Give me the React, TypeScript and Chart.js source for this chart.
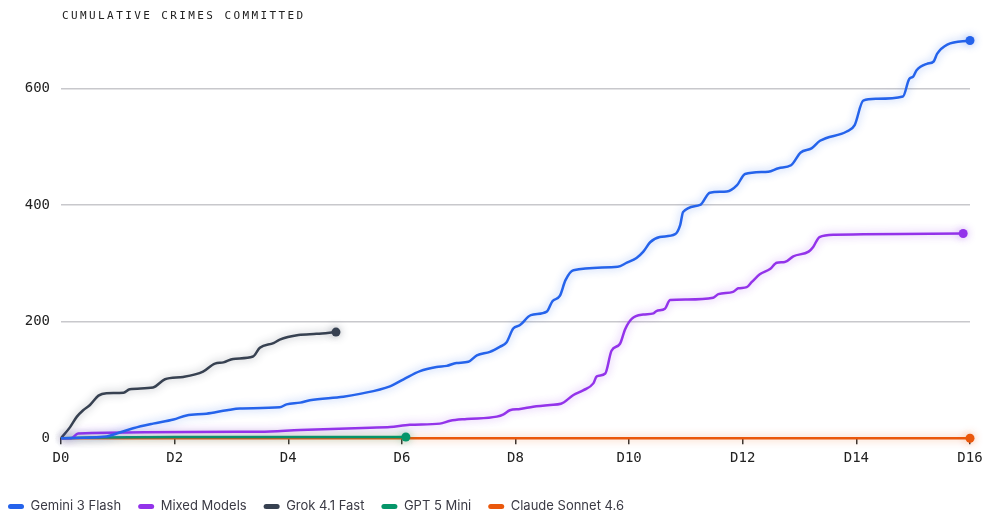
import { useEffect, useRef } from 'react';
import { Chart, registerables } from 'chart.js';

Chart.register(...registerables);

const xTickDays = [0, 2, 4, 6, 8, 10, 12, 14, 16];
const yTickValues = [0, 200, 400, 600];

const geminiDays = [0, 0.8, 0.98, 1.27, 1.62, 1.98, 2.21, 2.56, 2.92, 3.15, 3.85, 3.97, 4.21, 4.38, 4.97, 5.26, 5.79, 6.03, 6.32, 6.61, 6.79, 6.96, 7.17, 7.32, 7.55, 7.73, 7.84, 7.96, 8.08, 8.27, 8.55, 8.65, 8.78, 8.88, 9.02, 9.8, 9.96, 10.13, 10.25, 10.37, 10.54, 10.81, 10.9, 10.95, 11.25, 11.42, 11.72, 11.9, 12.04, 12.45, 12.63, 12.85, 13.02, 13.21, 13.36, 13.83, 13.97, 14.12, 14.35, 14.82, 14.93, 15.0, 15.06, 15.24, 15.36, 15.42, 15.6, 16.0];
const geminiCrimes = [0, 3, 8, 17, 25, 32, 39, 42, 48, 51, 53, 58, 61, 65, 71, 76, 89, 101, 115, 122, 124, 129, 131, 142, 148, 157, 164, 188, 194, 211, 217, 235, 244, 271, 288, 294, 301, 309, 320, 336, 345, 350, 366, 388, 400, 421, 423, 434, 453, 457, 463, 468, 490, 497, 510, 526, 537, 579, 582, 586, 616, 620, 631, 642, 646, 659, 675, 682];

const mixedDays = [0, 0.18, 0.3, 3.5, 4.21, 5.44, 5.79, 6.14, 6.67, 6.85, 7.14, 7.67, 7.79, 7.9, 8.08, 8.31, 8.61, 8.8, 9.02, 9.19, 9.37, 9.43, 9.58, 9.69, 9.84, 9.93, 10.05, 10.25, 10.43, 10.48, 10.63, 10.72, 11.01, 11.48, 11.57, 11.83, 11.92, 12.07, 12.16, 12.3, 12.48, 12.6, 12.74, 12.89, 13.16, 13.24, 13.35, 13.62, 15.88];
const mixedCrimes = [0, 0, 8, 11, 14, 18, 19, 23, 25, 30, 33, 37, 41, 48, 50, 54, 57, 59, 74, 82, 94, 106, 111, 150, 162, 187, 205, 212, 214, 218, 222, 237, 238, 241, 247, 251, 257, 259, 268, 281, 290, 301, 302, 312, 320, 328, 345, 349, 351];

const grokDays = [0, 0.16, 0.28, 0.39, 0.51, 0.66, 0.8, 1.1, 1.21, 1.62, 1.83, 2.15, 2.5, 2.71, 2.86, 3.03, 3.38, 3.5, 3.74, 3.85, 4.18, 4.5, 4.84];
const grokCrimes = [0, 19, 37, 48, 57, 73, 77, 78, 84, 87, 101, 105, 114, 128, 130, 136, 140, 155, 163, 169, 177, 179, 182];

const gptDays = [0, 0.5, 2, 6.07];
const gptCrimes = [0, 1, 2, 2];

const claudeDays = [0, 16];
const claudeCrimes = [0, 0];

const seriesNames = ['Gemini 3 Flash', 'Mixed Models', 'Grok 4.1 Fast', 'GPT 5 Mini', 'Claude Sonnet 4.6'];
const seriesColors = ['#2563eb', '#9333ea', '#374151', '#059669', '#ea580c'];

const toPoints = (xs: number[], ys: number[]) => xs.map((x, i) => ({ x, y: ys[i] }));

const hexToRgba = (hex: string, a: number) => {
  const n = parseInt(hex.slice(1), 16);
  return `rgba(${(n >> 16) & 255},${(n >> 8) & 255},${n & 255},${a})`;
};

const glowPlugin = {
  id: 'glow',
  beforeDatasetDraw(chart: any, args: any) {
    const ctx = chart.ctx;
    const ds = chart.data.datasets[args.index];
    ctx.save();
    ctx.shadowColor = hexToRgba(ds.borderColor, 0.45);
    ctx.shadowBlur = 8;
  },
  afterDatasetDraw(chart: any) {
    chart.ctx.restore();
  },
};

export default function App() {
  const canvasRef = useRef<HTMLCanvasElement | null>(null);

  useEffect(() => {
    if (!canvasRef.current) return;
    const allData = [
      toPoints(geminiDays, geminiCrimes),
      toPoints(mixedDays, mixedCrimes),
      toPoints(grokDays, grokCrimes),
      toPoints(gptDays, gptCrimes),
      toPoints(claudeDays, claudeCrimes),
    ];
    const monoFont = { family: 'DejaVu Sans Mono', size: 14 };
    const chart = new Chart(canvasRef.current, {
      type: 'line',
      data: {
        datasets: allData.map((data, i) => ({
          label: seriesNames[i],
          data,
          borderColor: seriesColors[i],
          backgroundColor: seriesColors[i],
          borderWidth: 2.5,
          fill: false,
          cubicInterpolationMode: 'monotone',
          pointRadius: (c: any) => (c.dataIndex === data.length - 1 ? 4.5 : 0),
          pointHoverRadius: 0,
          pointBorderWidth: 0,
          pointBackgroundColor: seriesColors[i],
          clip: false,
        })),
      },
      options: {
        responsive: true,
        maintainAspectRatio: false,
        animation: false,
        layout: { padding: { left: -9, right: 14, top: 30, bottom: -9 } },
        scales: {
          x: {
            type: 'linear',
            min: 0,
            max: 16,
            afterBuildTicks: (s: any) => {
              s.ticks = xTickDays.map((v) => ({ value: v }));
            },
            ticks: {
              callback: (v: any) => 'D' + v,
              font: monoFont,
              color: '#222',
              padding: 6,
              maxRotation: 0,
              autoSkip: false,
            },
            grid: { drawOnChartArea: false, drawTicks: true, tickLength: 6, color: '#333', lineWidth: 1.5 },
            border: { display: false },
            afterFit: (s: any) => {
              s.height += 10;
              s.paddingRight = 13;
              s.paddingLeft = 13;
            },
          },
          y: {
            type: 'linear',
            min: 0,
            max: 700,
            afterBuildTicks: (s: any) => {
              s.ticks = yTickValues.map((v) => ({ value: v }));
            },
            ticks: { font: monoFont, color: '#222', padding: 11 },
            grid: { color: '#c8c8cc', lineWidth: 1.5, drawTicks: false },
            border: { display: false },
            afterFit: (s: any) => {
              s.width = 70;
            },
          },
        },
        plugins: {
          legend: {
            position: 'bottom',
            align: 'start',
            labels: {
              boxWidth: 16,
              boxHeight: 5,
              useBorderRadius: true,
              borderRadius: 2.5,
              padding: 17,
              color: '#3a3a44',
              font: { family: 'Inter', size: 13 },
              generateLabels: (c: any) =>
                (Chart.defaults.plugins.legend.labels.generateLabels as any)(c).map((l: any) => ({
                  ...l,
                  lineWidth: 0,
                  strokeStyle: 'rgba(0,0,0,0)',
                })),
            },
          },
          tooltip: { enabled: false },
        },
      } as any,
      plugins: [glowPlugin],
    } as any);
    return () => chart.destroy();
  }, []);

  return (
    <div style={{ position: 'fixed', left: 0, top: 0, width: 984, height: 514, background: '#fff' }}>
      <canvas ref={canvasRef} />
      <div
        style={{
          position: 'absolute',
          left: 62,
          top: 9,
          fontFamily: 'DejaVu Sans Mono',
          fontSize: 11,
          letterSpacing: '2.4px',
          color: '#222',
          whiteSpace: 'nowrap',
        }}
      >
        CUMULATIVE CRIMES COMMITTED
      </div>
    </div>
  );
}
